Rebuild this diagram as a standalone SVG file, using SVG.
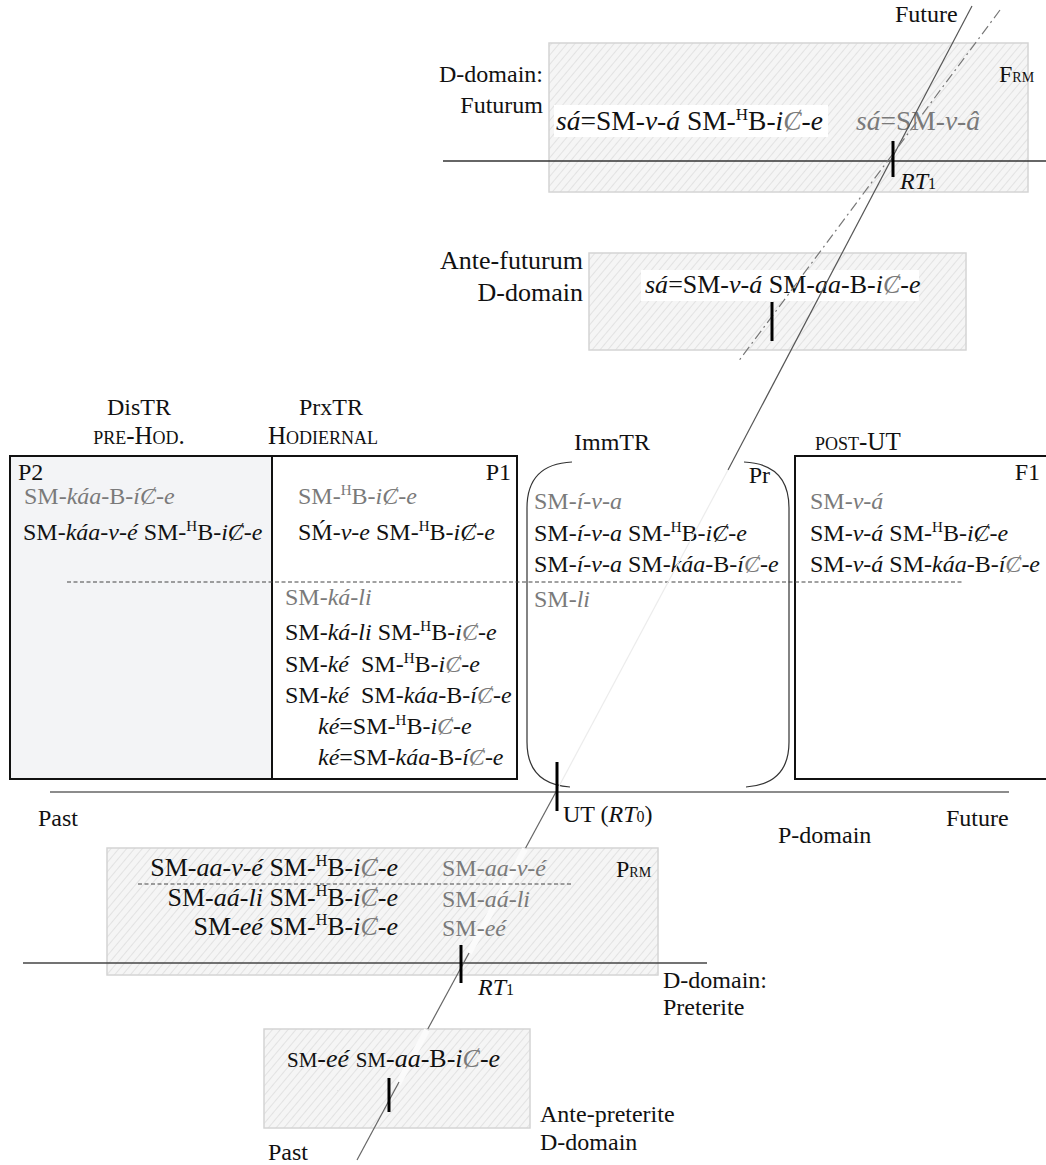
<svg xmlns="http://www.w3.org/2000/svg" width="1046" height="1165" viewBox="0 0 1046 1165">
<defs>
<pattern id="hatch" width="6" height="6" patternUnits="userSpaceOnUse" patternTransform="rotate(40)">
<rect width="6" height="6" fill="#f5f5f5"/>
<line x1="0" y1="0" x2="0" y2="6" stroke="#d9d9d9" stroke-width="1.3"/>
</pattern>
<style>
.t{font-family:"Liberation Serif","DejaVu Serif",serif;font-size:24px;fill:#111}
.d{font-size:26px}
.big{font-size:27.5px}
.g{fill:#7a7a7a}
.i{font-style:italic}
.sc{font-variant:small-caps;font-size:25px}
.hb{fill:url(#hatch);stroke:#d4d4d4;stroke-width:1.5}
.box{stroke:#111;stroke-width:2}
.ax{stroke:#666;stroke-width:1.4;fill:none}
.ob{stroke:#666;stroke-width:1.2}
.band{stroke:#fbfbfb;stroke-width:6}
.tick{stroke:#000;stroke-width:3}
.br{fill:none;stroke:#333;stroke-width:1.2}
.dash{stroke:#444;stroke-width:1;stroke-dasharray:4 2.5}
</style>
</defs>
<rect width="1046" height="1165" fill="#fff"/>

<g id="futurum-domain">
<rect class="hb" x="549" y="43" width="479" height="149"/>
<rect x="554" y="105" width="274" height="32" fill="#fff"/>
<text class="t" x="543" y="82" text-anchor="end">D-domain:</text>
<text class="t" x="543" y="113" text-anchor="end">Futurum</text>
<text class="t big" x="556" y="130"><tspan class="i">sá</tspan>=SM-<tspan class="i">v-á</tspan> SM-<tspan font-size="17" dy="-10">H</tspan><tspan dy="10">B</tspan>-<tspan class="i">i<tspan class="g">Ȼ</tspan>-e</tspan></text>
<text class="t big g" x="856" y="130"><tspan class="i">sá</tspan>=SM-<tspan class="i">v-â</tspan></text>
<text class="t" x="999" y="82">F<tspan font-size="14">RM</tspan></text>
</g>

<g id="antefuturum-domain">
<rect class="hb" x="589" y="253" width="377" height="97"/>
<rect x="641" y="270" width="278" height="31" fill="#fff"/>
<text class="t d" x="583" y="269" text-anchor="end">Ante-futurum</text>
<text class="t d" x="583" y="301" text-anchor="end">D-domain</text>
<text class="t d" x="645" y="293"><tspan class="i">sá</tspan>=SM-<tspan class="i">v-á</tspan> SM-<tspan class="i">aa</tspan>-B-<tspan class="i">i<tspan class="g">Ȼ</tspan>-e</tspan></text>
</g>

<g id="col-p2">
<rect class="box" x="10" y="456" width="262" height="323" fill="#f3f4f6"/>
<text class="t" x="139" y="415" text-anchor="middle" font-size="23">DisTR</text>
<text class="t sc" x="139" y="444" text-anchor="middle">pre-Hod.</text>
<text class="t" x="18" y="480">P2</text>
<text class="t g" x="24" y="504">SM-<tspan class="i">káa</tspan>-B-<tspan class="i">íȻ-e</tspan></text>
<text class="t" x="23" y="540">SM-<tspan class="i">káa-v-é</tspan> SM-<tspan font-size="15" dy="-9">H</tspan><tspan dy="9">B</tspan>-<tspan class="i">iȻ-e</tspan></text>
</g>

<g id="col-p1">
<rect class="box" x="272" y="456" width="245" height="323" fill="#fff"/>
<text class="t" x="331" y="415" text-anchor="middle" font-size="23">PrxTR</text>
<text class="t sc" x="323" y="444" text-anchor="middle">Hodiernal</text>
<text class="t" x="511" y="480" text-anchor="end">P1</text>
<text class="t g" x="298" y="504">SM-<tspan font-size="15" dy="-9">H</tspan><tspan dy="9">B</tspan>-<tspan class="i">iȻ-e</tspan></text>
<text class="t" x="298" y="540">SḾ-<tspan class="i">v-e</tspan> SM-<tspan font-size="15" dy="-9">H</tspan><tspan dy="9">B</tspan>-<tspan class="i">iȻ-e</tspan></text>
<text class="t g" x="285" y="605">SM-<tspan class="i">ká-li</tspan></text>
<text class="t" x="285" y="640">SM-<tspan class="i">ká-li</tspan> SM-<tspan font-size="15" dy="-9">H</tspan><tspan dy="9">B</tspan>-<tspan class="i">i<tspan class="g">Ȼ</tspan>-e</tspan></text>
<text class="t" x="285" y="672">SM-<tspan class="i">ké</tspan>&#160; SM-<tspan font-size="15" dy="-9">H</tspan><tspan dy="9">B</tspan>-<tspan class="i">i<tspan class="g">Ȼ</tspan>-e</tspan></text>
<text class="t" x="285" y="703">SM-<tspan class="i">ké</tspan>&#160; SM-<tspan class="i">káa</tspan>-B-<tspan class="i">í<tspan class="g">Ȼ</tspan>-e</tspan></text>
<text class="t" x="318" y="734"><tspan class="i">ké</tspan>=SM-<tspan font-size="15" dy="-9">H</tspan><tspan dy="9">B</tspan>-<tspan class="i">i<tspan class="g">Ȼ</tspan>-e</tspan></text>
<text class="t" x="318" y="765"><tspan class="i">ké</tspan>=SM-<tspan class="i">káa</tspan>-B-<tspan class="i">í<tspan class="g">Ȼ</tspan>-e</tspan></text>
</g>

<g id="col-pr">
<rect x="527" y="462" width="262" height="324" fill="#fff"/>
<path class="br" d="M572,462 Q527,464 527,508 L527,742 Q527,784 570,787"/>
<path class="br" d="M744,462 Q789,464 789,508 L789,742 Q789,784 746,787"/>
<text class="t" x="574" y="450">ImmTR</text>
<text class="t" x="770" y="483" text-anchor="end">Pr</text>
<text class="t g" x="534" y="509">SM-<tspan class="i">í-v-a</tspan></text>
<text class="t" x="534" y="541">SM-<tspan class="i">í-v-a</tspan> SM-<tspan font-size="15" dy="-9">H</tspan><tspan dy="9">B</tspan>-<tspan class="i">iȻ-e</tspan></text>
<text class="t" x="534" y="572">SM-<tspan class="i">í-v-a</tspan> SM-<tspan class="i">káa</tspan>-B-<tspan class="i">í<tspan class="g">Ȼ</tspan>-e</tspan></text>
<text class="t g" x="534" y="607">SM-<tspan class="i">li</tspan></text>
</g>

<g id="col-f1">
<path class="box" d="M1050,456 H795 V779 H1050" fill="#fff"/>
<text class="t sc" x="815" y="450">post-UT</text>
<text class="t" x="1040" y="480" text-anchor="end">F1</text>
<text class="t g" x="810" y="509">SM-<tspan class="i">v-á</tspan></text>
<text class="t" x="810" y="541">SM-<tspan class="i">v-á</tspan> SM-<tspan font-size="15" dy="-9">H</tspan><tspan dy="9">B</tspan>-<tspan class="i">iȻ-e</tspan></text>
<text class="t" x="810" y="572">SM-<tspan class="i">v-á</tspan> SM-<tspan class="i">káa</tspan>-B-<tspan class="i">í<tspan class="g">Ȼ</tspan>-e</tspan></text>
</g>

<g id="preterite-domain">
<rect class="hb" x="107" y="848" width="551" height="127"/>
<line class="band" x1="525" y1="849" x2="469" y2="953"/>
<text class="t d" x="398" y="876" text-anchor="end">SM-<tspan class="i">aa-v-é</tspan> SM-<tspan font-size="16" dy="-10">H</tspan><tspan dy="10">B</tspan>-<tspan class="i">i<tspan class="g">Ȼ</tspan>-e</tspan></text>
<text class="t d" x="398" y="906" text-anchor="end">SM-<tspan class="i">aá-li</tspan> SM-<tspan font-size="16" dy="-10">H</tspan><tspan dy="10">B</tspan>-<tspan class="i">i<tspan class="g">Ȼ</tspan>-e</tspan></text>
<text class="t d" x="398" y="935" text-anchor="end">SM-<tspan class="i">eé</tspan> SM-<tspan font-size="16" dy="-10">H</tspan><tspan dy="10">B</tspan>-<tspan class="i">i<tspan class="g">Ȼ</tspan>-e</tspan></text>
<text class="t g" x="442" y="876">SM-<tspan class="i">aa-v-é</tspan></text>
<text class="t g" x="442" y="907">SM-<tspan class="i">aá-li</tspan></text>
<text class="t g" x="442" y="936">SM-<tspan class="i">eé</tspan></text>
<text class="t" x="616" y="877">P<tspan font-size="14">RM</tspan></text>
<text class="t" x="663" y="988">D-domain:</text>
<text class="t" x="663" y="1015">Preterite</text>
</g>

<g id="antepreterite-domain">
<rect class="hb" x="264" y="1029" width="266" height="99"/>
<line class="band" x1="427" y1="1030" x2="398" y2="1084"/>
<text class="t d" x="287" y="1067"><tspan font-size="21">SM</tspan>-<tspan class="i">eé</tspan> <tspan font-size="21">SM</tspan>-<tspan class="i">aa</tspan>-B-<tspan class="i">i<tspan class="g">Ȼ</tspan>-e</tspan></text>
<text class="t" x="540" y="1122">Ante-preterite</text>
<text class="t" x="540" y="1150">D-domain</text>
</g>

<g id="connectors">
<line class="dash" x1="67" y1="582" x2="963" y2="582"/>
<line class="dash" x1="138" y1="884" x2="572" y2="884"/>
<line x1="443" y1="161" x2="1046" y2="161" stroke="#333" stroke-width="1.3"/>
<line x1="23" y1="963" x2="707" y2="963" stroke="#444" stroke-width="1.3"/>
<line class="ax" x1="50" y1="792" x2="1009" y2="792"/>
<line x1="972" y1="6" x2="728" y2="470" stroke="#555" stroke-width="1.2"/>
<line x1="728" y1="470" x2="557" y2="790" stroke="#ececec" stroke-width="1.2"/>
<line x1="1000" y1="10" x2="738" y2="362" stroke="#777" stroke-width="1.2" stroke-dasharray="10 4 2 4"/>
<line class="ob" x1="557" y1="790" x2="525.6" y2="848"/>
<line class="ob" x1="469" y1="953" x2="427.8" y2="1029"/>
<line class="ob" x1="399" y1="1082" x2="357" y2="1160"/>
<line class="tick" x1="893" y1="141" x2="893" y2="177"/>
<line class="tick" x1="772" y1="302" x2="772" y2="341" stroke-width="2.5"/>
<line class="tick" x1="557" y1="762" x2="557" y2="811"/>
<line class="tick" x1="461" y1="945" x2="461" y2="983"/>
<line class="tick" x1="389" y1="1078" x2="389" y2="1112" stroke-width="1.5"/>
</g>

<g id="axis-labels">
<text class="t" x="895" y="22">Future</text>
<text class="t" x="900" y="189"><tspan class="i">RT</tspan><tspan font-size="16">1</tspan></text>
<text class="t" x="563" y="822" font-size="25">UT (<tspan class="i">RT</tspan><tspan font-size="16">0</tspan>)</text>
<text class="t" x="38" y="826" font-size="26">Past</text>
<text class="t" x="946" y="826" font-size="25">Future</text>
<text class="t" x="778" y="843" font-size="29">P-domain</text>
<text class="t" x="478" y="995"><tspan class="i">RT</tspan><tspan font-size="16">1</tspan></text>
<text class="t" x="268" y="1160" font-size="27">Past</text>
</g>
</svg>
